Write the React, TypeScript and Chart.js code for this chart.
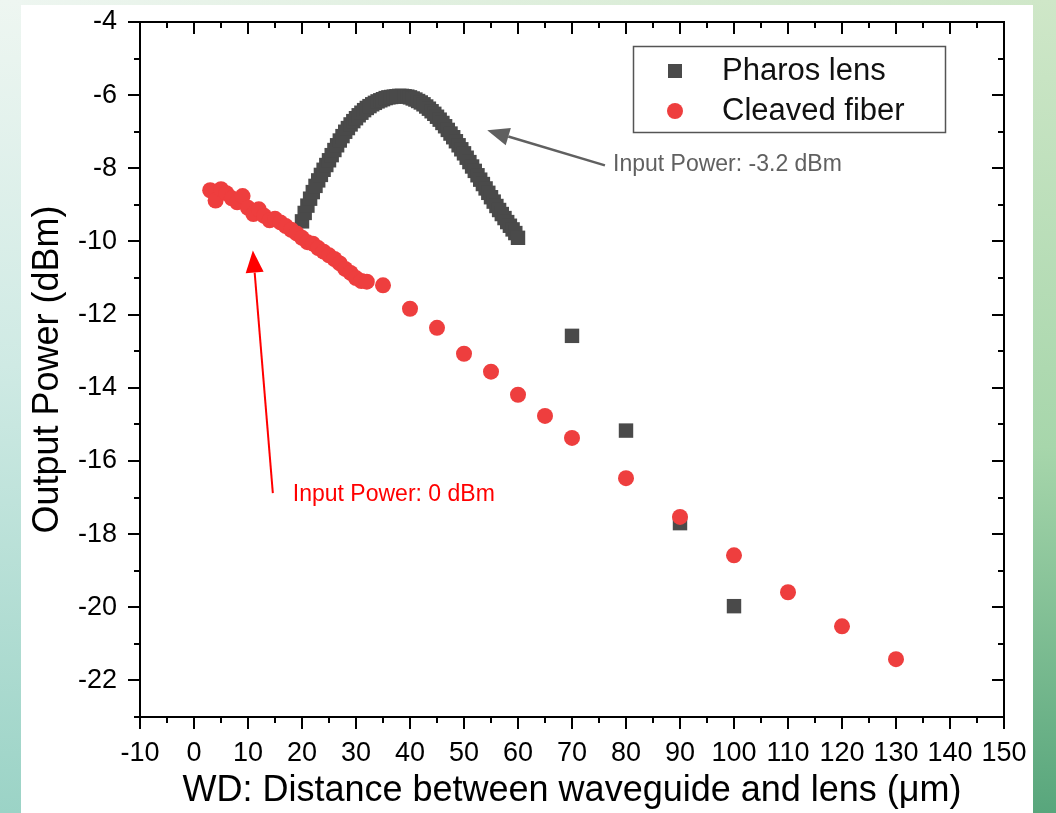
import React, { useEffect, useRef } from "react";
import { Chart, registerables } from "chart.js";

Chart.register(...registerables);

// ---------- data ----------
const seriesNames = ["Pharos lens", "Cleaved fiber"];

const pharosX = [
  20, 20.5, 21, 21.5, 22, 22.5, 23, 23.5, 24, 24.5, 25, 25.5, 26, 26.5, 27, 27.5, 28, 28.5, 29, 29.5,
  30, 30.5, 31, 31.5, 32, 32.5, 33, 33.5, 34, 34.5, 35, 35.5, 36, 36.5, 37, 37.5, 38, 38.5, 39, 39.5,
  40, 40.5, 41, 41.5, 42, 42.5, 43, 43.5, 44, 44.5, 45, 45.5, 46, 46.5, 47, 47.5, 48, 48.5, 49, 49.5,
  50, 50.5, 51, 51.5, 52, 52.5, 53, 53.5, 54, 54.5, 55, 55.5, 56, 56.5, 57, 57.5, 58, 58.5, 59, 59.5,
  60, 70, 80, 90, 100,
];
const pharosY = [
  -9.45, -9.22, -9.02, -8.83, -8.65, -8.48, -8.33, -8.18, -8.04, -7.91, -7.78, -7.64, -7.5, -7.37, -7.24, -7.12, -7.0, -6.9, -6.8, -6.71,
  -6.63, -6.55, -6.48, -6.41, -6.35, -6.3, -6.25, -6.21, -6.17, -6.14, -6.11, -6.08, -6.06, -6.05, -6.04, -6.03, -6.02, -6.02, -6.03, -6.04,
  -6.06, -6.09, -6.12, -6.16, -6.2, -6.25, -6.31, -6.37, -6.44, -6.51, -6.59, -6.67, -6.76, -6.85, -6.95, -7.05, -7.15, -7.26, -7.37, -7.48,
  -7.59, -7.71, -7.83, -7.95, -8.07, -8.19, -8.31, -8.43, -8.55, -8.67, -8.79, -8.91, -9.03, -9.14, -9.25, -9.36, -9.47, -9.57, -9.67, -9.77,
  -9.9, -12.58, -15.17, -17.7, -19.97,
];

const fiberX = [
  3, 4, 5, 6, 7, 8, 9, 10, 11, 12, 13, 14, 15, 16, 17, 18, 19, 20, 21, 22, 23, 24, 25, 26, 27, 28, 29, 30, 31, 32,
  35, 40, 45, 50, 55, 60, 65, 70, 80, 90, 100, 110, 120, 130,
];
const fiberY = [
  -8.6, -8.88, -8.57, -8.68, -8.82, -8.93, -8.76, -9.08, -9.25, -9.12, -9.3, -9.42, -9.38, -9.48, -9.58, -9.68, -9.78, -9.9, -10.02, -10.06,
  -10.18, -10.28, -10.38, -10.48, -10.6, -10.75, -10.86, -11.0, -11.08, -11.1,
  -11.2, -11.84, -12.36, -13.07, -13.56, -14.19, -14.77, -15.37, -16.47, -17.53, -18.58, -19.59, -20.52, -21.42,
];

const xTicks = [-10, 0, 10, 20, 30, 40, 50, 60, 70, 80, 90, 100, 110, 120, 130, 140, 150];
const xMinor = [-5, 5, 15, 25, 35, 45, 55, 65, 75, 85, 95, 105, 115, 125, 135, 145];
const yTicks = [-22, -20, -18, -16, -14, -12, -10, -8, -6, -4];
const yMinor = [-23, -21, -19, -17, -15, -13, -11, -9, -7, -5];

const xTitle = "WD: Distance between waveguide and lens (\u03bcm)";
const yTitle = "Output Power (dBm)";

// annotations (in data units)
const notes = [
  { text: "Input Power: -3.2 dBm", color: "#606060", tx: 77.6, ty: -7.9, from: [76.1, -7.92], to: [54.3, -6.96], width: 2.5 },
  { text: "Input Power: 0 dBm", color: "#ff0000", tx: 18.3, ty: -16.93, from: [14.6, -16.88], to: [10.9, -10.25], width: 2 },
];

const FONT = "'Liberation Sans', Arial, Helvetica, sans-serif";
const GRAY = "#4a4a4a";
const RED = "#ee3e3e";

function drawArrow(ctx: CanvasRenderingContext2D, x1: number, y1: number, x2: number, y2: number, color: string, w: number) {
  const ang = Math.atan2(y2 - y1, x2 - x1);
  const hl = 22;
  const hw = 9;
  const bx = x2 - hl * Math.cos(ang);
  const by = y2 - hl * Math.sin(ang);
  ctx.save();
  ctx.strokeStyle = color;
  ctx.fillStyle = color;
  ctx.lineWidth = w;
  ctx.beginPath();
  ctx.moveTo(x1, y1);
  ctx.lineTo(bx, by);
  ctx.stroke();
  ctx.beginPath();
  ctx.moveTo(x2, y2);
  ctx.lineTo(bx + hw * Math.sin(ang), by - hw * Math.cos(ang));
  ctx.lineTo(bx - hw * Math.sin(ang), by + hw * Math.cos(ang));
  ctx.closePath();
  ctx.fill();
  ctx.restore();
}

const decorPlugin = {
  id: "decor",
  afterDraw(chart: any) {
    const ctx: CanvasRenderingContext2D = chart.ctx;
    const { left, right, top, bottom } = chart.chartArea;
    const xs = chart.scales.x;
    const ys = chart.scales.y;
    ctx.save();
    // frame
    ctx.strokeStyle = "#000";
    ctx.lineWidth = 2;
    ctx.strokeRect(left, top, right - left, bottom - top);
    // ticks
    const major = 12;
    const minor = 6;
    ctx.beginPath();
    for (const v of xTicks) {
      const p = Math.round(xs.getPixelForValue(v));
      ctx.moveTo(p, bottom); ctx.lineTo(p, bottom + major);
      ctx.moveTo(p, top); ctx.lineTo(p, top + major);
    }
    for (const v of xMinor) {
      const p = Math.round(xs.getPixelForValue(v));
      ctx.moveTo(p, bottom); ctx.lineTo(p, bottom + minor);
      ctx.moveTo(p, top); ctx.lineTo(p, top + minor);
    }
    for (const v of yTicks) {
      const p = Math.round(ys.getPixelForValue(v));
      ctx.moveTo(left, p); ctx.lineTo(left - major, p);
      ctx.moveTo(right, p); ctx.lineTo(right - major, p);
    }
    for (const v of yMinor) {
      const p = Math.round(ys.getPixelForValue(v));
      ctx.moveTo(left, p); ctx.lineTo(left - minor, p);
      ctx.moveTo(right, p); ctx.lineTo(right - minor, p);
    }
    ctx.stroke();

    // legend
    const lx = left + 493;
    const ly = top + 24;
    ctx.strokeStyle = "#555";
    ctx.lineWidth = 1.5;
    ctx.strokeRect(lx + 0.5, ly + 0.5, 312, 86);
    ctx.fillStyle = GRAY;
    ctx.fillRect(lx + 42 - 7, ly + 25 - 7, 14, 14);
    ctx.fillStyle = RED;
    ctx.beginPath();
    ctx.arc(lx + 42, ly + 65, 8, 0, Math.PI * 2);
    ctx.fill();
    ctx.fillStyle = "#111";
    ctx.font = `31px ${FONT}`;
    ctx.textAlign = "left";
    ctx.textBaseline = "middle";
    ctx.fillText(seriesNames[0], lx + 89, ly + 25);
    ctx.fillText(seriesNames[1], lx + 89, ly + 65);

    // annotations
    for (const n of notes) {
      drawArrow(
        ctx,
        xs.getPixelForValue(n.from[0]), ys.getPixelForValue(n.from[1]),
        xs.getPixelForValue(n.to[0]), ys.getPixelForValue(n.to[1]),
        n.color, n.width
      );
      ctx.fillStyle = n.color;
      ctx.font = `23px ${FONT}`;
      ctx.textAlign = "left";
      ctx.textBaseline = "middle";
      ctx.fillText(n.text, xs.getPixelForValue(n.tx), ys.getPixelForValue(n.ty));
    }
    ctx.restore();
  },
};

export default function App() {
  const ref = useRef<HTMLCanvasElement | null>(null);

  useEffect(() => {
    if (!ref.current) return;
    const pharos = pharosX.map((x, i) => ({ x, y: pharosY[i] }));
    const fiber = fiberX.map((x, i) => ({ x, y: fiberY[i] }));
    const chart = new Chart(ref.current, {
      type: "scatter",
      data: {
        datasets: [
          {
            label: seriesNames[0],
            data: pharos,
            pointStyle: "rect",
            pointRadius: 10.2,
            pointHoverRadius: 10.2,
            backgroundColor: GRAY,
            borderWidth: 0,
            order: 1,
          },
          {
            label: seriesNames[1],
            data: fiber,
            pointStyle: "circle",
            pointRadius: 8,
            pointHoverRadius: 8,
            backgroundColor: RED,
            borderWidth: 0,
            order: 0,
          },
        ],
      },
      options: {
        responsive: false,
        animation: false,
        events: [],
        layout: { padding: { left: 0, top: 22, right: 52, bottom: 0 } },
        plugins: { legend: { display: false }, tooltip: { enabled: false } },
        scales: {
          x: {
            type: "linear",
            min: -10,
            max: 150,
            afterBuildTicks: (s: any) => { s.ticks = xTicks.map((v) => ({ value: v })); },
            afterFit: (s: any) => { s.height = 96; s.paddingLeft = 0; s.paddingRight = 0; },
            grid: { display: false, drawTicks: false },
            border: { display: false },
            ticks: {
              autoSkip: false,
              maxRotation: 0,
              padding: 20,
              color: "#000",
              font: { family: FONT, size: 27 },
            },
            title: {
              display: true,
              text: xTitle,
              color: "#000",
              font: { family: FONT, size: 36 },
              padding: { top: 0, bottom: 0 },
            },
          },
          y: {
            type: "linear",
            min: -23,
            max: -4,
            afterBuildTicks: (s: any) => { s.ticks = yTicks.map((v) => ({ value: v })); },
            afterFit: (s: any) => { s.width = 140; s.paddingTop = 0; s.paddingBottom = 0; },
            grid: { display: false, drawTicks: false },
            border: { display: false },
            ticks: {
              padding: 23,
              color: "#000",
              font: { family: FONT, size: 27 },
            },
            title: {
              display: true,
              text: yTitle,
              color: "#000",
              font: { family: FONT, size: 36 },
              padding: { top: 26, bottom: 0 },
            },
          },
        },
      },
      plugins: [decorPlugin],
    } as any);
    return () => chart.destroy();
  }, []);

  return (
    <div style={{ position: "fixed", left: 0, top: 0, width: 1056, height: 813, overflow: "hidden", background: "#e8f3ea" }}>
      <div style={{ position: "absolute", left: 0, top: 0, width: 1056, height: 6, background: "linear-gradient(to right, #eef6f1, #cfe7c8)" }} />
      <div style={{ position: "absolute", left: 0, top: 0, width: 22, height: 813, background: "linear-gradient(to bottom, #eef6f1, #cfeae4 45%, #9bd3c6)" }} />
      <div style={{ position: "absolute", left: 1032, top: 0, width: 24, height: 813, background: "linear-gradient(to bottom, #cfe7c8, #a7d6ab 55%, #58a67c)" }} />
      <div style={{ position: "absolute", left: 21, top: 5, width: 1012, height: 808, background: "#ffffff" }} />
      <canvas ref={ref} width={1056} height={813} style={{ position: "absolute", left: 0, top: 0, width: 1056, height: 813 }} />
    </div>
  );
}
